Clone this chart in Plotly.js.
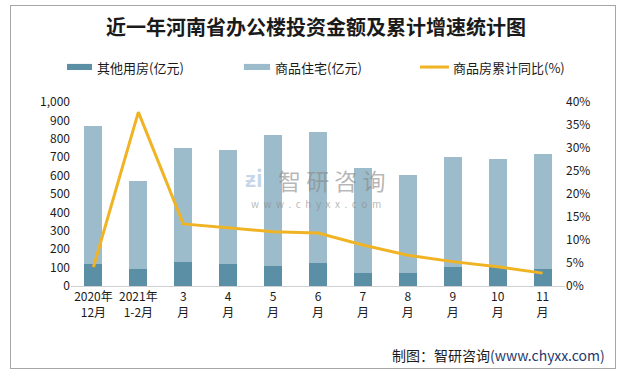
<!DOCTYPE html>
<html><head><meta charset="utf-8">
<script src="https://cdn.plot.ly/plotly-3.0.1.min.js"></script>
<style>
html,body{margin:0;padding:0;background:#fff;}
#wrap{position:relative;width:632px;height:377px;}
#chart{position:absolute;left:0;top:0;width:632px;height:377px;}
#frame{position:absolute;left:10px;top:5px;width:604px;height:362px;border:1px solid #a6a6a6;pointer-events:none;}
</style>
</head><body>
<div id="wrap"><div id="chart"></div><div id="frame"></div></div>
<script>
const categories = ["2020年<br>12月","2021年<br>1-2月","3<br>月","4<br>月","5<br>月","6<br>月","7<br>月","8<br>月","9<br>月","10<br>月","11<br>月"];
const otherValues = [120, 92, 130, 120, 109, 125, 71, 71, 103, 102, 92];
const residentialValues = [750, 479, 620, 619, 712, 712, 570, 532, 598, 588, 625];
const growthPct = [4.1, 37.8, 13.5, 12.7, 11.8, 11.5, 8.9, 6.7, 5.3, 4.2, 2.8];
const seriesNames = ['其他用房(亿元)', '商品住宅(亿元)', '商品房累计同比(%)'];
const seriesColors = ['#5b8fa6', '#9dbccb', '#f0b323'];

const font = "'Noto Sans CJK SC', 'Microsoft YaHei', sans-serif";
const data = [
  {type:'bar', name:seriesNames[0], x:categories, y:otherValues, marker:{color:seriesColors[0]}},
  {type:'bar', name:seriesNames[1], x:categories, y:residentialValues, marker:{color:seriesColors[1]}},
  {type:'scatter', mode:'lines', name:seriesNames[2], x:categories, y:growthPct, yaxis:'y2',
   line:{color:seriesColors[2], width:3}}
];
const wm = 'rgba(135,135,135,0.6)';
const layout = {
  width:632, height:377,
  margin:{l:71, r:67, t:102, b:91},
  paper_bgcolor:'#fff', plot_bgcolor:'#fff',
  font:{family:font, size:12, color:'#1a1a1a'},
  barmode:'stack', bargap:0.6,
  title:{text:'<b>近一年河南省办公楼投资金额及累计增速统计图</b>', x:0.5, xanchor:'center', y:0.926, yanchor:'middle',
    font:{family:font, size:20, color:'#1a1a1a'}},
  showlegend:false,
  xaxis:{showline:true, linecolor:'#d0d0d0', linewidth:1, ticks:'', showgrid:false, tickfont:{size:12}},
  yaxis:{range:[0,1000], dtick:100, tickformat:',', showgrid:false, zeroline:false, showline:false, ticks:'', tickfont:{size:12}},
  yaxis2:{range:[0,40], dtick:5, ticksuffix:'%', overlaying:'y', side:'right', showgrid:false, zeroline:false, showline:false, ticks:'', tickfont:{size:12}},
  shapes:[
    {type:'rect', xref:'paper', yref:'paper', x0:-0.0081, x1:0.0425, y0:1.174, y1:1.207, fillcolor:seriesColors[0], line:{width:0}},
    {type:'rect', xref:'paper', yref:'paper', x0:0.350, x1:0.403, y0:1.174, y1:1.207, fillcolor:seriesColors[1], line:{width:0}},
    {type:'line', xref:'paper', yref:'paper', x0:0.7065, x1:0.765, y0:1.190, y1:1.190, line:{color:seriesColors[2], width:3}}
  ],
  annotations:[
    {xref:'paper', yref:'paper', x:0.0486, y:1.190, xanchor:'left', yanchor:'middle', text:seriesNames[0], showarrow:false, font:{size:13}},
    {xref:'paper', yref:'paper', x:0.409, y:1.190, xanchor:'left', yanchor:'middle', text:seriesNames[1], showarrow:false, font:{size:13}},
    {xref:'paper', yref:'paper', x:0.769, y:1.190, xanchor:'left', yanchor:'middle', text:seriesNames[2], showarrow:false, font:{size:13}},
    {xref:'paper', yref:'paper', x:0.528, y:0.578, xanchor:'center', yanchor:'middle', text:'智 研 咨 询', showarrow:false,
     font:{size:23, color:wm}},
    {xref:'paper', yref:'paper', x:0.496, y:0.448, xanchor:'center', yanchor:'middle', text:'w  w  w  .  c  h  y  x  x  .  c  o  m', showarrow:false,
     font:{size:10, color:wm}},
    {xref:'paper', yref:'paper', x:0.37, y:0.59, xanchor:'center', yanchor:'middle', text:'<b>ƶi</b>', showarrow:false,
     font:{size:22, color:'rgba(150,180,215,0.55)'}},
    {xref:'paper', yref:'paper', x:1.085, y:-0.375, xanchor:'right', yanchor:'middle', text:'制图：智研咨询<span style="color:#1f3a6e">(www.chyxx.com)</span>', showarrow:false,
     font:{size:14, color:'#1a1a1a'}}
  ]
};
Plotly.newPlot('chart', data, layout, {displayModeBar:false, staticPlot:true});
</script>
</body></html>
